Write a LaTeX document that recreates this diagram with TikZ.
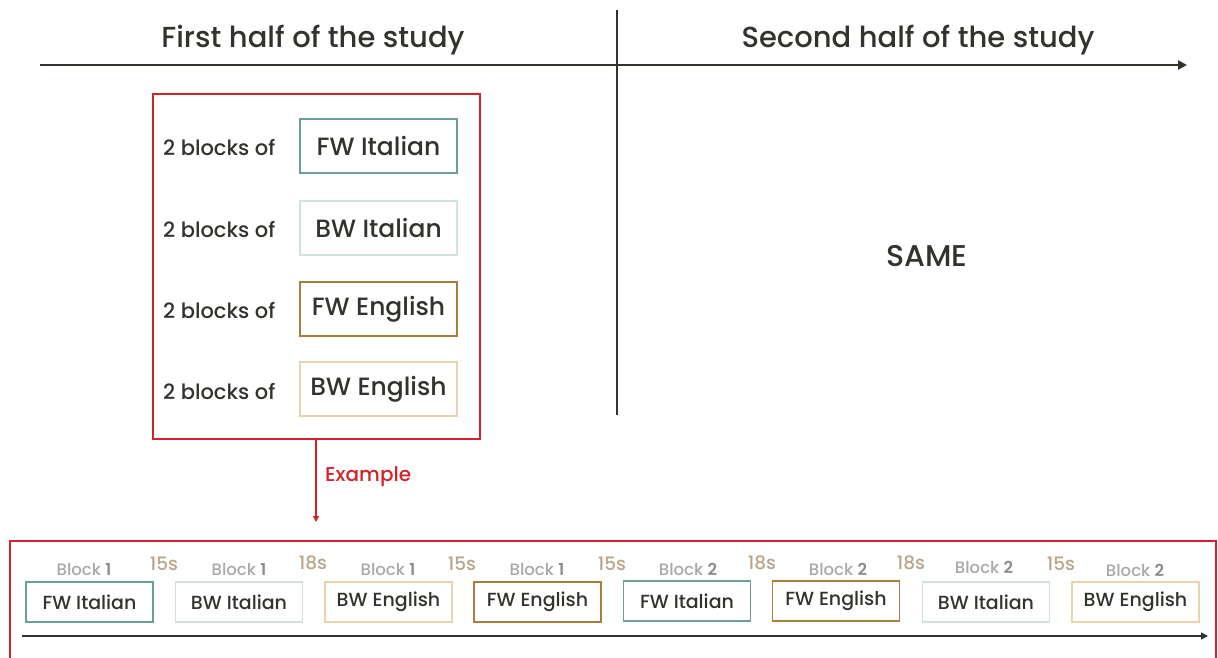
\documentclass[tikz,border=0pt]{standalone}
\usepackage{fontspec}
\setmainfont{Poppins}[UprightFont=* Medium, BoldFont=* SemiBold]
\usetikzlibrary{arrows.meta}
\definecolor{txt}{HTML}{33332E}
\definecolor{fwit}{HTML}{6A9E9B}
\definecolor{bwit}{HTML}{CFE2E0}
\definecolor{fwen}{HTML}{A87E3E}
\definecolor{bwen}{HTML}{E8D3AE}
\definecolor{redc}{HTML}{D0232A}
\definecolor{secc}{HTML}{B8A48A}
\definecolor{blkc}{HTML}{A8A8A8}
\definecolor{blkb}{HTML}{8C8C8C}
\tikzset{
  big/.style={rectangle, minimum width=157pt, minimum height=54pt, line width=2.2pt, inner sep=0pt, font=\fontsize{25}{28}\selectfont, text=txt},
  small/.style={rectangle, minimum width=127pt, minimum height=40pt, line width=1.8pt, inner sep=0pt, font=\fontsize{19}{22}\selectfont, text=txt},
  rowlab/.style={anchor=west, inner sep=0pt, font=\fontsize{21}{24}\selectfont, text=txt},
  blk/.style={inner sep=0pt, font=\fontsize{16.5}{18}\selectfont, text=blkc},
  sec/.style={inner sep=0pt, font=\fontsize{18.5}{20}\selectfont, text=secc},
  title/.style={inner sep=0pt, font=\fontsize{29}{32}\selectfont, text=txt}
}
\newcommand{\bn}[1]{{\bfseries\color{blkb}#1}}
\begin{document}
\begin{tikzpicture}[x=1pt,y=-1pt]
\useasboundingbox (0,0) rectangle (1218,657);
% top axis
\coordinate (tl) at (40,65);
\coordinate (tr) at (1187,65);
\draw[txt, line width=2.2pt, -{Triangle[length=9pt,width=9pt]}] (tl) -- (tr);
\coordinate (vt) at (617,10);
\coordinate (vb) at (617,415);
\draw[txt, line width=2pt] (vt) -- (vb);
\node[title] (t1) at (313,40) {First half of the study};
\node[title] (t2) at (918,40) {Second half of the study};
\node[title, font=\fontsize{30}{32}\selectfont] (same) at (927,256) {SAME};
% red box
\node[draw=redc, line width=1.8pt, minimum width=327pt, minimum height=345pt, inner sep=0pt] (rb) at (316.5,266.5) {};
\node[big, draw=fwit] (b1) at (378.5,146) {FW Italian};
\node[big, draw=bwit] (b2) at (378.5,228) {BW Italian};
\node[big, draw=fwen] (b3) at (378.5,309) {FW English};
\node[big, draw=bwen] (b4) at (378.5,389) {BW English};
\node[rowlab] (l1) at (163,147) {2 blocks of};
\node[rowlab] (l2) at (163,229) {2 blocks of};
\node[rowlab] (l3) at (163,310) {2 blocks of};
\node[rowlab] (l4) at (163,391) {2 blocks of};
% example arrow
\coordinate (ex) at (316,522);
\draw[redc, line width=1.5pt, -{Triangle[length=6pt,width=6pt]}] (rb.south -| ex) -- (ex);
\node[anchor=west, inner sep=0pt, text=redc, font=\fontsize{20}{22}\selectfont] (exl) at (325,477) {Example};
% bottom frame
\coordinate (f1) at (10,660);
\coordinate (f2) at (10,541);
\coordinate (f3) at (1216,541);
\coordinate (f4) at (1216,660);
\draw[redc, line width=1.8pt] (f1) -- (f2) -- (f3) -- (f4);
% bottom axis
\coordinate (al) at (22,636);
\coordinate (ar) at (1208,636);
\draw[txt, line width=1.5pt, -{Triangle[length=7pt,width=7pt]}] (al) -- (ar);
% sequence
\node[small, draw=fwit] (s1) at (89.5,602) {FW Italian};
\node[small, draw=bwit] (s2) at (239,602) {BW Italian};
\node[small, draw=bwen] (s3) at (388.5,602) {BW English};
\node[small, draw=fwen] (s4) at (537.5,602) {FW English};
\node[small, draw=fwit] (s5) at (687,601) {FW Italian};
\node[small, draw=fwen] (s6) at (836,601) {FW English};
\node[small, draw=bwit] (s7) at (986,602) {BW Italian};
\node[small, draw=bwen] (s8) at (1135.5,602) {BW English};
\node[blk] (k1) at (84,569) {Block \bn{1}};
\node[blk] (k2) at (239,569) {Block \bn{1}};
\node[blk] (k3) at (388,569) {Block \bn{1}};
\node[blk] (k4) at (537,569) {Block \bn{1}};
\node[blk] (k5) at (688,569) {Block \bn{2}};
\node[blk] (k6) at (838,569) {Block \bn{2}};
\node[blk] (k7) at (984,567) {Block \bn{2}};
\node[blk] (k8) at (1135,570) {Block \bn{2}};
\node[sec] (g1) at (164,564) {15s};
\node[sec] (g2) at (313,563) {18s};
\node[sec] (g3) at (462,564) {15s};
\node[sec] (g4) at (612,564) {15s};
\node[sec] (g5) at (762,563) {18s};
\node[sec] (g6) at (911,563) {18s};
\node[sec] (g7) at (1061,564) {15s};
\end{tikzpicture}
\end{document}
